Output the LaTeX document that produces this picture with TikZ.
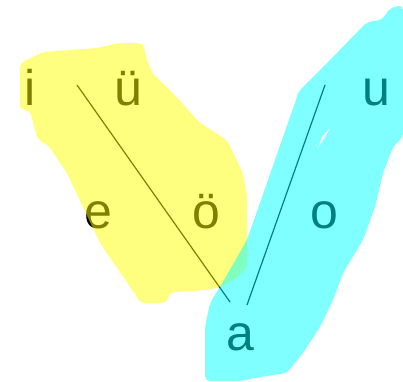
\documentclass[tikz,border=0pt]{standalone}
\usepackage{fontspec}
\setmainfont{Liberation Sans}
\usepackage{tikz}
\definecolor{vyellow}{RGB}{255,255,0}
\definecolor{vcyan}{RGB}{0,255,255}

\begin{document}
\begin{tikzpicture}[
    x=1pt, y=-1pt,
    vow/.style={anchor=base, inner sep=0pt, font=\fontsize{50}{50}\selectfont},
    guide/.style={line width=1.2pt},
    blob/.style={opacity=0.5, rounded corners=5pt},
  ]
  \useasboundingbox (0,0) rectangle (403,381);

  % Vowels
  \node[vow] (i) at (30,105) {i};
  \node[vow] (uu) at (128,105) {ü};
  \node[vow] (e) at (98,228) {e};
  \node[vow] (oo) at (206,228) {ö};
  \node[vow] (u) at (376,105) {u};
  \node[vow] (o) at (324,228) {o};
  \node[vow] (a) at (240,350) {a};

  % Guide lines
  \coordinate (front-top) at (77,85);
  \coordinate (front-bot) at (230,302);
  \coordinate (back-top) at (325,85);
  \coordinate (back-bot) at (247,305);
  \draw[guide] (front-top) -- (front-bot);
  \draw[guide] (back-top) -- (back-bot);

  % Front region
  \fill[blob, vyellow]
    (20,63) -- (33,57) -- (43,52) -- (97,48) -- (120,43) -- (143,43)
    -- (147,60) -- (152,73) -- (170,90) -- (200,123) -- (227,140)
    -- (243,173) -- (247,197) -- (247,267) -- (237,278) -- (220,287)
    -- (207,290) -- (173,292) -- (168,295) -- (167,303) -- (140,303)
    -- (137,297) -- (100,243) -- (83,207) -- (67,173) -- (48,145)
    -- (38,140) -- (33,123) -- (30,110) -- (20,110) -- cycle;

  % Back region
  \fill[blob, vcyan]
    (390,8) -- (403,5) -- (403,137) -- (393,147) -- (383,173)
    -- (375,207) -- (363,240) -- (343,273) -- (333,300) -- (320,327)
    -- (303,353) -- (287,373) -- (260,377) -- (240,381) -- (205,381)
    -- (205,327) -- (210,303) -- (220,287) -- (247,240) -- (297,97)
    -- (298,92) -- (320,70) -- (330,60) -- (367,22) -- (382,20) -- cycle;
  \fill[white] (318,148) -- (322,137) -- (330,128) -- (325,137) -- cycle;

\end{tikzpicture}
\end{document}
